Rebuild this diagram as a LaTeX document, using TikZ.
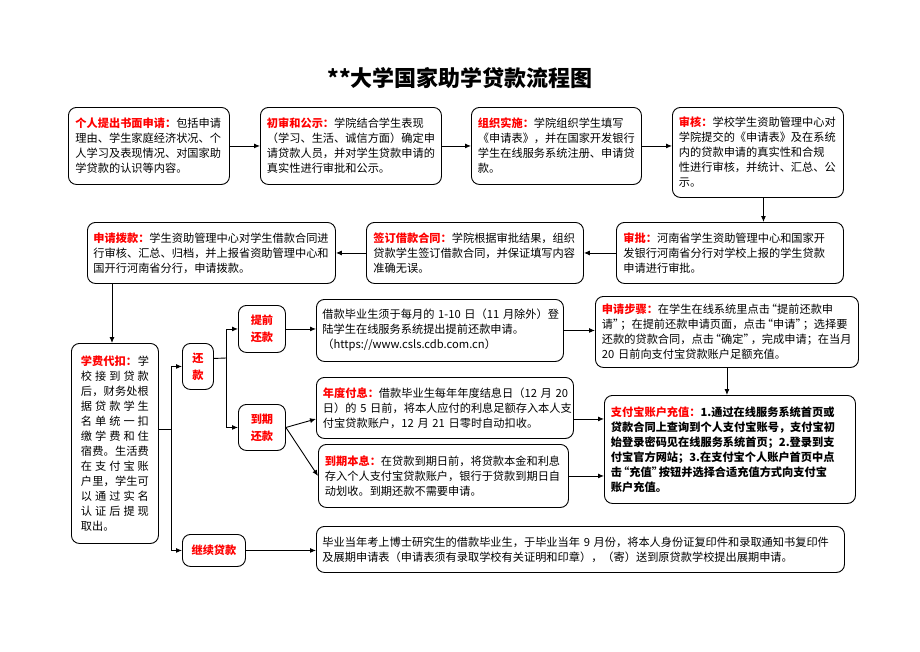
\documentclass[tikz,border=0pt]{standalone}
\usepackage{fontspec}
\setmainfont{Noto Sans CJK SC}
\usetikzlibrary{arrows.meta}

\newcommand\redlabel[1]{\textcolor{red}{\bfseries #1}}
% narrower CJK quotes
\newcommand\qopen{\kern-4pt“}
\newcommand\qclose{”\kern-4pt}
% spread the characters of one line over the full width
\newcommand\spreadline[1]{\leavevmode\hbox to 68pt{\spreadchars#1\relax}}
\def\spreadchars#1{\ifx\relax#1\unskip\else#1\hfill\expandafter\spreadchars\fi}

\begin{document}
\begin{tikzpicture}[x=1pt, y=-1pt,
    stage/.style={draw, line width=0.9pt, rounded corners=8pt, anchor=north west,
      inner xsep=0pt, inner ysep=2pt, align=left, font=\fontsize{11.2}{15}\selectfont},
    tag/.style={stage, align=center, text=red, font=\fontsize{11.2}{17}\selectfont\bfseries},
    arr/.style={-{Latex[length=6pt,width=5pt]}, line width=0.9pt},
    link/.style={line width=0.9pt}]
    \useasboundingbox (0,0) rectangle (920,651);

    \node[font=\fontsize{22}{22}\selectfont\bfseries] (title) at (460,78) {**大学国家助学贷款流程图};

    % first row
    \node[stage, minimum width=161pt, minimum height=77pt, text width=147pt] (apply) at (68,107)
      {\redlabel{个人提出书面申请：}包括申请\\理由、学生家庭经济状况、个\\人学习及表现情况、对国家助\\学贷款的认识等内容。};
    \node[stage, minimum width=181pt, minimum height=77pt, text width=168pt] (review) at (260,107)
      {\redlabel{初审和公示：}学院结合学生表现\\（学习、生活、诚信方面）确定申\\请贷款人员，并对学生贷款申请的\\真实性进行审批和公示。};
    \node[stage, minimum width=170pt, minimum height=77pt, text width=157pt] (organize) at (471,107)
      {\redlabel{组织实施：}学院组织学生填写\\《申请表》，并在国家开发银行\\学生在线服务系统注册、申请贷\\款。};
    \node[stage, minimum width=171pt, minimum height=90pt, text width=158pt] (audit) at (672,107)
      {\redlabel{审核：}学校学生资助管理中心对\\学院提交的《申请表》及在系统\\内的贷款申请的真实性和合规\\性进行审核，并统计、汇总、公\\示。};

    % second row
    \node[stage, minimum width=227pt, minimum height=61pt, text width=213pt] (approve) at (616,222)
      {\redlabel{审批：}河南省学生资助管理中心和国家开\\发银行河南省分行对学校上报的学生贷款\\申请进行审批。};
    \node[stage, minimum width=217pt, minimum height=61pt, text width=203pt] (sign) at (366,222)
      {\redlabel{签订借款合同：}学院根据审批结果，组织\\贷款学生签订借款合同，并保证填写内容\\准确无误。};
    \node[stage, minimum width=248pt, minimum height=61pt, text width=236pt] (grant) at (87,222)
      {\redlabel{申请拨款：}学生资助管理中心对学生借款合同进\\行审核、汇总、归档，并上报省资助管理中心和\\国开行河南省分行，申请拨款。};

    % repayment part
    \node[stage, minimum width=87pt, minimum height=200pt, text width=68pt] (tuition) at (71,343)
      {\leavevmode\hbox to 68pt{\redlabel{学费代扣：}\hfill 学}\\\spreadline{校接到贷款}\\\spreadline{后，财务处根}\\
       \spreadline{据贷款学生}\\\spreadline{名单统一扣}\\\spreadline{缴学费和住}\\
       \spreadline{宿费。生活费}\\\spreadline{在支付宝账}\\\spreadline{户里，学生可}\\
       \spreadline{以通过实名}\\\spreadline{认证后提现}\\取出。};
    \node[tag, minimum width=31pt, minimum height=46pt] (repay) at (182,343) {还\\款};
    \node[tag, minimum width=47pt, minimum height=47pt] (early) at (238,305) {提前\\还款};
    \node[tag, minimum width=47pt, minimum height=46pt] (due) at (238,404) {到期\\还款};
    \node[tag, minimum width=63pt, minimum height=32pt] (cont) at (182,534) {继续贷款};

    \node[stage, minimum width=247pt, minimum height=62pt, text width=235pt] (prepay) at (316,299)
      {借款毕业生须于每月的~\mbox{1-10}~日（11~月除外）登\\陆学生在线服务系统提出提前还款申请。\\（https://www.csls.cdb.com.cn）};
    \node[stage, minimum width=263pt, minimum height=71pt, text width=250pt] (steps) at (595,296)
      {\redlabel{申请步骤：}在学生在线系统里点击\qopen 提前还款申\\请\qclose；在提前还款申请页面，点击\qopen 申请\qclose；选择要\\还款的贷款合同，点击\qopen 确定\qclose，完成申请；在当月\\20~日前向支付宝贷款账户足额充值。};
    \node[stage, minimum width=257pt, minimum height=61pt, text width=244pt] (annual) at (316,377)
      {\redlabel{年度付息：}借款毕业生每年年度结息日（12~月~20\\日）的~5~日前，将本人应付的利息足额存入本人支\\付宝贷款账户，12~月~21~日零时自动扣收。};
    \node[stage, minimum width=250pt, minimum height=63pt, text width=237pt] (maturity) at (318,444)
      {\redlabel{到期本息：}在贷款到期日前，将贷款本金和利息\\存入个人支付宝贷款账户，银行于贷款到期日自\\动划收。到期还款不需要申请。};
    \node[stage, minimum width=251pt, minimum height=108pt, text width=238pt, font=\fontsize{11.2}{15}\selectfont\bfseries] (alipay) at (604,395)
      {\redlabel{支付宝账户充值：}1.通过在线服务系统首页或\\贷款合同上查询到个人支付宝账号，支付宝初\\始登录密码见在线服务系统首页；2.登录到支\\付宝官方网站；3.在支付宝个人账户首页中点\\击\qopen 充值\qclose 按钮并选择合适充值方式向支付宝\\账户充值。};
    \node[stage, minimum width=528pt, minimum height=46pt, text width=516pt] (extend) at (316,526)
      {毕业当年考上博士研究生的借款毕业生，于毕业当年~9~月份，将本人身份证复印件和录取通知书复印件\\及展期申请表（申请表须有录取学校有关证明和印章），（寄）送到原贷款学校提出展期申请。};

    % connectors
    \draw[arr] (apply) -- (apply -| review.west);
    \draw[arr] (review) -- (review -| organize.west);
    \draw[arr] (organize) -- (organize -| audit.west);
    \coordinate (down) at ([xshift=5.5pt]audit.south);
    \draw[arr] (down) -- (down |- approve.north);
    \draw[arr] (approve) -- (approve -| sign.east);
    \draw[arr] (sign) -- (sign -| grant.east);
    \coordinate (drop) at ([xshift=25pt]grant.south west);
    \draw[arr] (drop) -- (drop |- tuition.north);

    \coordinate (split) at (171,429);
    \draw[link] (tuition.east |- split) -- (split);
    \draw[arr] (split) |- (repay);
    \draw[arr] (split) |- (cont);
    \coordinate (split2) at (226,358);
    \draw[link] ([yshift=8pt]repay.east) -- (split2);
    \draw[arr] (split2) |- (early);
    \draw[arr] (split2) |- (due);

    \draw[arr] (early) -- (early -| prepay.west);
    \draw[arr] (prepay) -- (prepay -| steps.west);
    \draw[arr] (steps) -- (steps |- alipay.north);
    \draw[arr] (due.east) -- ([yshift=-11pt]annual.west);
    \draw[arr] (due.east) -- (maturity.west);
    \coordinate (yearout) at ([yshift=-11pt]annual.east);
    \draw[arr] (yearout) -- (yearout -| alipay.west);
    \draw[arr] (maturity) -- (maturity -| alipay.west);
    \draw[arr] (cont) -- (cont -| extend.west);
\end{tikzpicture}
\end{document}
